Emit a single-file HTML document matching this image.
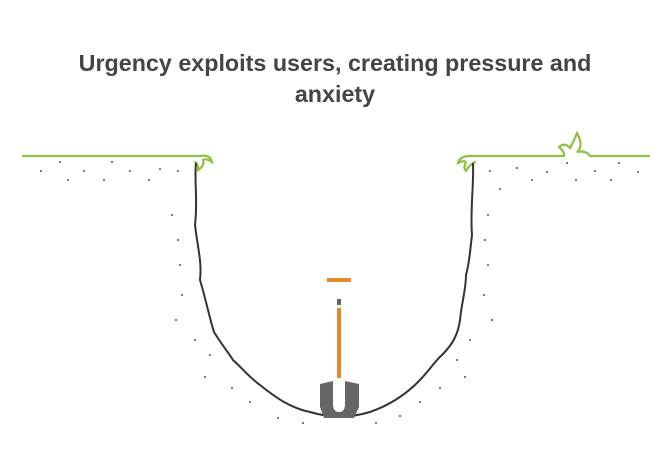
<!DOCTYPE html>
<html><head><style>
html,body{margin:0;padding:0;background:#fff;width:672px;height:471px;overflow:hidden}
</style></head><body>
<svg width="672" height="471" xmlns="http://www.w3.org/2000/svg">
<text x="335" y="71" text-anchor="middle" font-family="Liberation Sans, sans-serif" font-weight="bold" font-size="23.3" fill="#444">Urgency exploits users, creating pressure and</text>
<text x="335" y="102" text-anchor="middle" font-family="Liberation Sans, sans-serif" font-weight="bold" font-size="23.3" fill="#444">anxiety</text>
<g stroke="#8dc03f" stroke-width="2.2" fill="none" stroke-linecap="round">
<path d="M23 156 H200 Q210 154 212 162 Q206 158 203 160 Q205 166 198 170 Q199 165 195 162"/>
<path d="M649 156 H590 Q586 150 577 152 Q584 146 577 133 Q572 145 570 148 Q565 142 559 147 Q565 152 564 156 H470 Q460 156 458 163 Q464 160 466 162 Q463 168 466 171 Q469 165 475 162"/>
</g>
<path d="M196 163 C194 180 198 200 195 225 C198 250 202 262 200 280 C206 300 210 320 214 332 C222 345 228 352 233 360 C242 368 250 378 260 385 C275 397 290 408 310 412 C330 418 350 418 370 412 C390 405 405 395 418 382 C430 370 434 362 442 355 C452 345 458 335 460 320 C462 300 466 290 466 275 C470 260 470 250 472 235 C470 210 474 185 473 163" stroke="#333" stroke-width="2" fill="none"/>
<g fill="#555">
<circle cx="41" cy="171" r="1"/><circle cx="60" cy="162" r="1"/><circle cx="68" cy="180" r="1"/><circle cx="84" cy="171" r="1"/><circle cx="112" cy="162" r="1"/><circle cx="104" cy="180" r="1"/><circle cx="130" cy="171" r="1"/><circle cx="149" cy="180" r="1"/><circle cx="160" cy="169" r="1"/><circle cx="178" cy="171" r="1"/>
<circle cx="490" cy="171" r="1"/><circle cx="517" cy="168" r="1"/><circle cx="532" cy="180" r="1"/><circle cx="547" cy="172" r="1"/><circle cx="567" cy="163" r="1"/><circle cx="576" cy="180" r="1"/><circle cx="595" cy="171" r="1"/><circle cx="611" cy="180" r="1"/><circle cx="619" cy="163" r="1"/><circle cx="638" cy="172" r="1"/><circle cx="500" cy="189" r="1"/>
<circle cx="172" cy="215" r="1"/><circle cx="178" cy="240" r="1"/><circle cx="180" cy="265" r="1"/><circle cx="182" cy="295" r="1"/><circle cx="176" cy="320" r="1"/><circle cx="195" cy="340" r="1"/><circle cx="210" cy="355" r="1"/><circle cx="205" cy="377" r="1"/><circle cx="232" cy="388" r="1"/><circle cx="250" cy="402" r="1"/><circle cx="278" cy="418" r="1"/><circle cx="303" cy="423" r="1"/>
<circle cx="488" cy="215" r="1"/><circle cx="485" cy="240" r="1"/><circle cx="488" cy="265" r="1"/><circle cx="484" cy="295" r="1"/><circle cx="492" cy="320" r="1"/><circle cx="470" cy="340" r="1"/><circle cx="457" cy="360" r="1"/><circle cx="465" cy="377" r="1"/><circle cx="440" cy="388" r="1"/><circle cx="420" cy="402" r="1"/><circle cx="400" cy="416" r="1"/><circle cx="376" cy="423" r="1"/>
</g>
<rect x="327" y="278" width="24" height="4" fill="#e38a2e"/>
<rect x="337" y="299" width="4" height="6" fill="#666"/>
<rect x="337" y="308" width="4" height="70" fill="#e38a2e"/>
<path d="M320 384 L333 381 V404 Q333 412 339 412 Q345 412 345 404 V381 L359 384 V407 L354 418 H324 L320 407 Z" fill="#666"/>
</svg>
</body></html>
